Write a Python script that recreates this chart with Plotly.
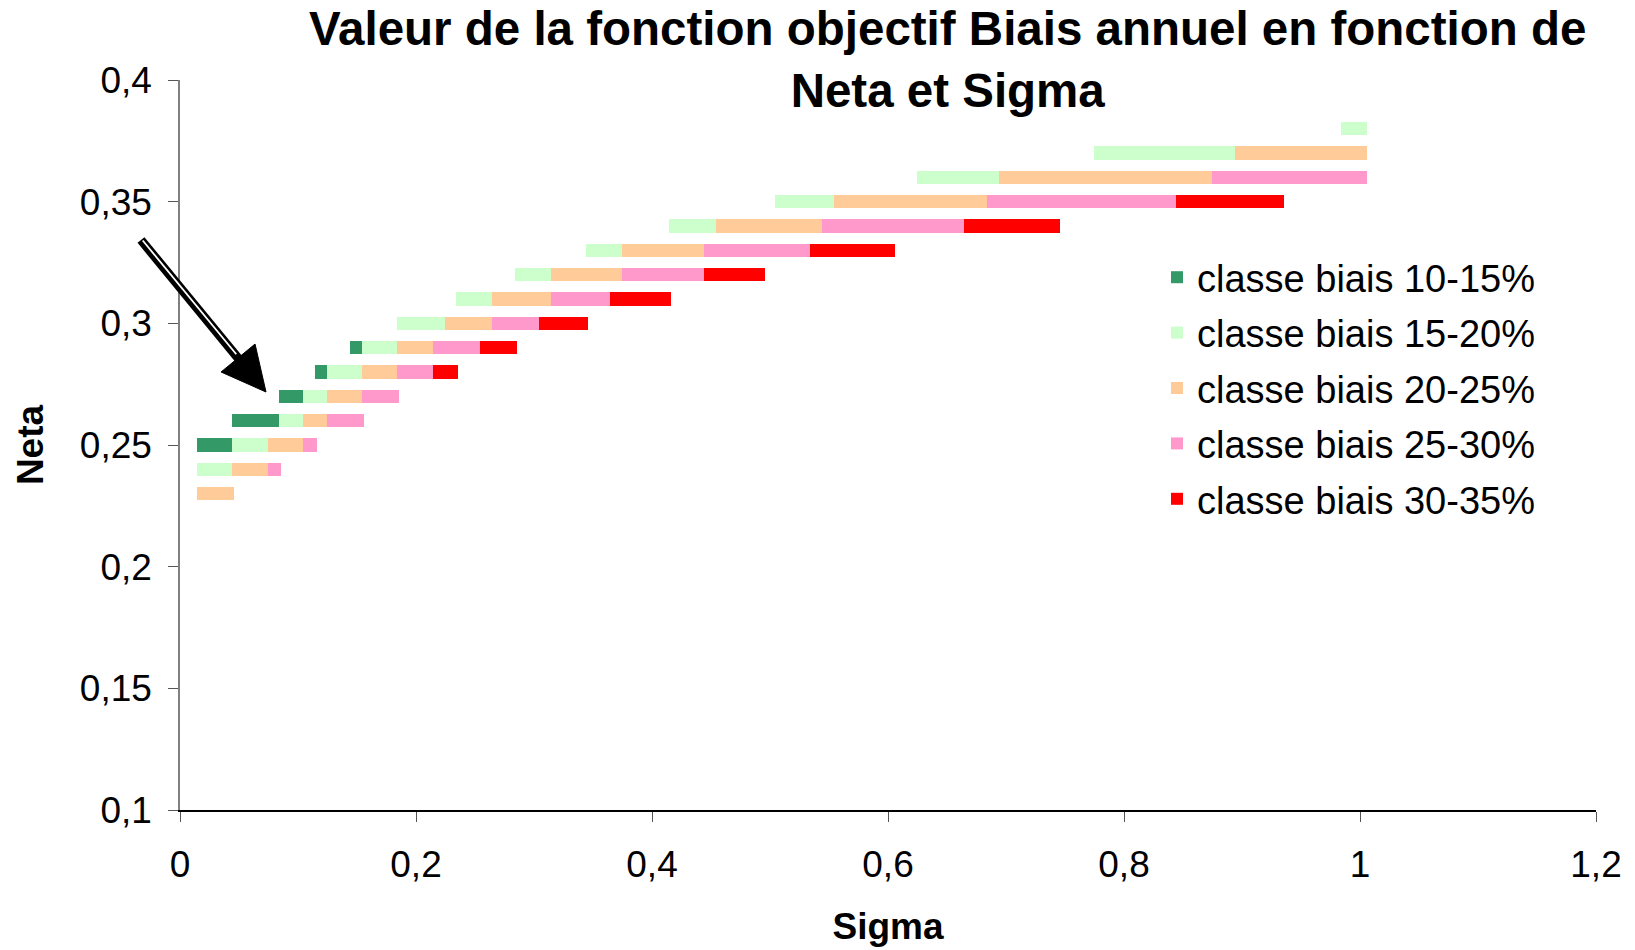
import plotly.graph_objects as go

# ---------------- data (Neta row, first and last Sigma value of each run) ----------------
classes = ["classe biais 10-15%", "classe biais 15-20%", "classe biais 20-25%",
           "classe biais 25-30%", "classe biais 30-35%"]

neta_10_15 = [0.25, 0.26, 0.27, 0.28, 0.29]
start_10_15 = [0.02, 0.05, 0.09, 0.12, 0.15]
end_10_15 = [0.04, 0.08, 0.10, 0.12, 0.15]

neta_15_20 = [0.24, 0.25, 0.26, 0.27, 0.28, 0.29, 0.30, 0.31, 0.32, 0.33, 0.34, 0.35, 0.36, 0.37, 0.38]
start_15_20 = [0.02, 0.05, 0.09, 0.11, 0.13, 0.16, 0.19, 0.24, 0.29, 0.35, 0.42, 0.51, 0.63, 0.78, 0.99]
end_15_20 = [0.04, 0.07, 0.10, 0.12, 0.15, 0.18, 0.22, 0.26, 0.31, 0.37, 0.45, 0.55, 0.69, 0.89, 1.00]

neta_20_25 = [0.23, 0.24, 0.25, 0.26, 0.27, 0.28, 0.29, 0.30, 0.31, 0.32, 0.33, 0.34, 0.35, 0.36, 0.37]
start_20_25 = [0.02, 0.05, 0.08, 0.11, 0.13, 0.16, 0.19, 0.23, 0.27, 0.32, 0.38, 0.46, 0.56, 0.70, 0.90]
end_20_25 = [0.04, 0.07, 0.10, 0.12, 0.15, 0.18, 0.21, 0.26, 0.31, 0.37, 0.44, 0.54, 0.68, 0.87, 1.00]

neta_25_30 = [0.24, 0.25, 0.26, 0.27, 0.28, 0.29, 0.30, 0.31, 0.32, 0.33, 0.34, 0.35, 0.36]
start_25_30 = [0.08, 0.11, 0.13, 0.16, 0.19, 0.22, 0.27, 0.32, 0.38, 0.45, 0.55, 0.69, 0.88]
end_25_30 = [0.08, 0.11, 0.15, 0.18, 0.21, 0.25, 0.30, 0.36, 0.44, 0.53, 0.66, 0.84, 1.00]

neta_30_35 = [0.28, 0.29, 0.30, 0.31, 0.32, 0.33, 0.34, 0.35]
start_30_35 = [0.22, 0.26, 0.31, 0.37, 0.45, 0.54, 0.67, 0.85]
end_30_35 = [0.23, 0.28, 0.34, 0.41, 0.49, 0.60, 0.74, 0.93]

x_ticks = [0, 0.2, 0.4, 0.6, 0.8, 1, 1.2]
y_ticks = [0.1, 0.15, 0.2, 0.25, 0.3, 0.35, 0.4]

# ---------------- styles ----------------
colors = ["#339966", "#CCFFCC", "#FFCC99", "#FF99CC", "#FF0000"]
HALF = 0.0058          # half width of a marker square (sigma units)
BAR_H = 0.0056         # marker height (neta units)
FONT = "Liberation Sans, Arial, sans-serif"

W, H = 1635, 950
L, R, T, B = 180, 39, 80, 140

series = [
    (neta_10_15, start_10_15, end_10_15),
    (neta_15_20, start_15_20, end_15_20),
    (neta_20_25, start_20_25, end_20_25),
    (neta_25_30, start_25_30, end_25_30),
    (neta_30_35, start_30_35, end_30_35),
]

fig = go.Figure()
for name, col, (ny, s0, s1) in zip(classes, colors, series):
    fig.add_trace(go.Bar(
        orientation="h",
        y=ny,
        base=[a - HALF for a in s0],
        x=[b - a + 2 * HALF for a, b in zip(s0, s1)],
        width=BAR_H,
        name=name,
        legendgroup=name,
        marker=dict(color=col, line=dict(width=0)),
        hoverinfo="skip",
    ))

# ---------------- arrow (pixel geometry -> paper coordinates) ----------------
pw, ph = W - L - R, H - T - B


def px(xp, yp):
    return (xp - L) / pw, (H - B - yp) / ph


tail = (141, 240)
tip = (266, 392)
dx, dy = tip[0] - tail[0], tip[1] - tail[1]
ln = (dx * dx + dy * dy) ** 0.5
ux, uy = dx / ln, dy / ln
nx, ny_ = -uy, ux
head_len, head_half = 44, 22
base_c = (tip[0] - head_len * ux, tip[1] - head_len * uy)
c1 = (base_c[0] + head_half * nx, base_c[1] + head_half * ny_)
c2 = (base_c[0] - head_half * nx, base_c[1] - head_half * ny_)

shapes = []
t0 = px(*tail)
b1 = px(base_c[0] + 2 * ux, base_c[1] + 2 * uy)
shapes.append(dict(type="line", xref="paper", yref="paper", x0=t0[0], y0=t0[1], x1=b1[0], y1=b1[1],
                   line=dict(color="black", width=9)))
w0 = px(tail[0] + 1.5 * ux + 1.0 * (-nx), tail[1] + 1.5 * uy + 1.0 * (-ny_))
w1 = px(base_c[0] - 4 * ux + 1.0 * (-nx), base_c[1] - 4 * uy + 1.0 * (-ny_))
shapes.append(dict(type="line", xref="paper", yref="paper", x0=w0[0], y0=w0[1], x1=w1[0], y1=w1[1],
                   line=dict(color="white", width=1.8)))
p_tip, p_c1, p_c2 = px(*tip), px(*c1), px(*c2)
shapes.append(dict(type="path", xref="paper", yref="paper",
                   path=f"M {p_tip[0]},{p_tip[1]} L {p_c1[0]},{p_c1[1]} L {p_c2[0]},{p_c2[1]} Z",
                   fillcolor="black", line=dict(color="black", width=1)))

title_text = "<b>Valeur de la fonction objectif Biais annuel en fonction de<br>Neta et Sigma</b>"

fig.update_layout(
    width=W, height=H,
    margin=dict(l=L, r=R, t=T, b=B, autoexpand=False),
    paper_bgcolor="white", plot_bgcolor="white",
    separators=", ",
    barmode="overlay",
    bargap=0,
    font=dict(family=FONT, color="black", size=37),
    xaxis=dict(
        range=[0, 1.2], tickvals=x_ticks, showgrid=False, zeroline=False,
        showline=True, linecolor="black", linewidth=1.5, automargin=False,
        ticks="outside", ticklen=10, tickcolor="#555555", tickwidth=1,
        tickfont=dict(size=37, family=FONT), ticklabelstandoff=11,
        title=dict(text="<b>Sigma</b>", font=dict(size=37, family=FONT), standoff=29),
    ),
    yaxis=dict(
        range=[0.1, 0.4], tickvals=y_ticks, showgrid=False, zeroline=False,
        showline=True, linecolor="#808080", linewidth=1.5, automargin=False,
        ticks="outside", ticklen=10, tickcolor="#555555", tickwidth=1,
        tickfont=dict(size=37, family=FONT), ticklabelstandoff=9,
        title=dict(text="<b>Neta</b>", font=dict(size=37, family=FONT), standoff=25),
    ),
    legend=dict(
        x=(1157 - L) / pw, y=(H - B - 246) / ph, xanchor="left", yanchor="top",
        font=dict(size=38, family=FONT), bgcolor="rgba(0,0,0,0)",
        tracegroupgap=3, itemwidth=30,
    ),
    annotations=[dict(
        text=title_text, xref="paper", yref="paper",
        x=(947 - L) / pw, y=(H - B - 59) / ph, xanchor="center", yanchor="middle",
        showarrow=False, font=dict(family=FONT, size=47.5, color="black"),
    )],
    shapes=shapes,
)

fig.write_html("out.html")
